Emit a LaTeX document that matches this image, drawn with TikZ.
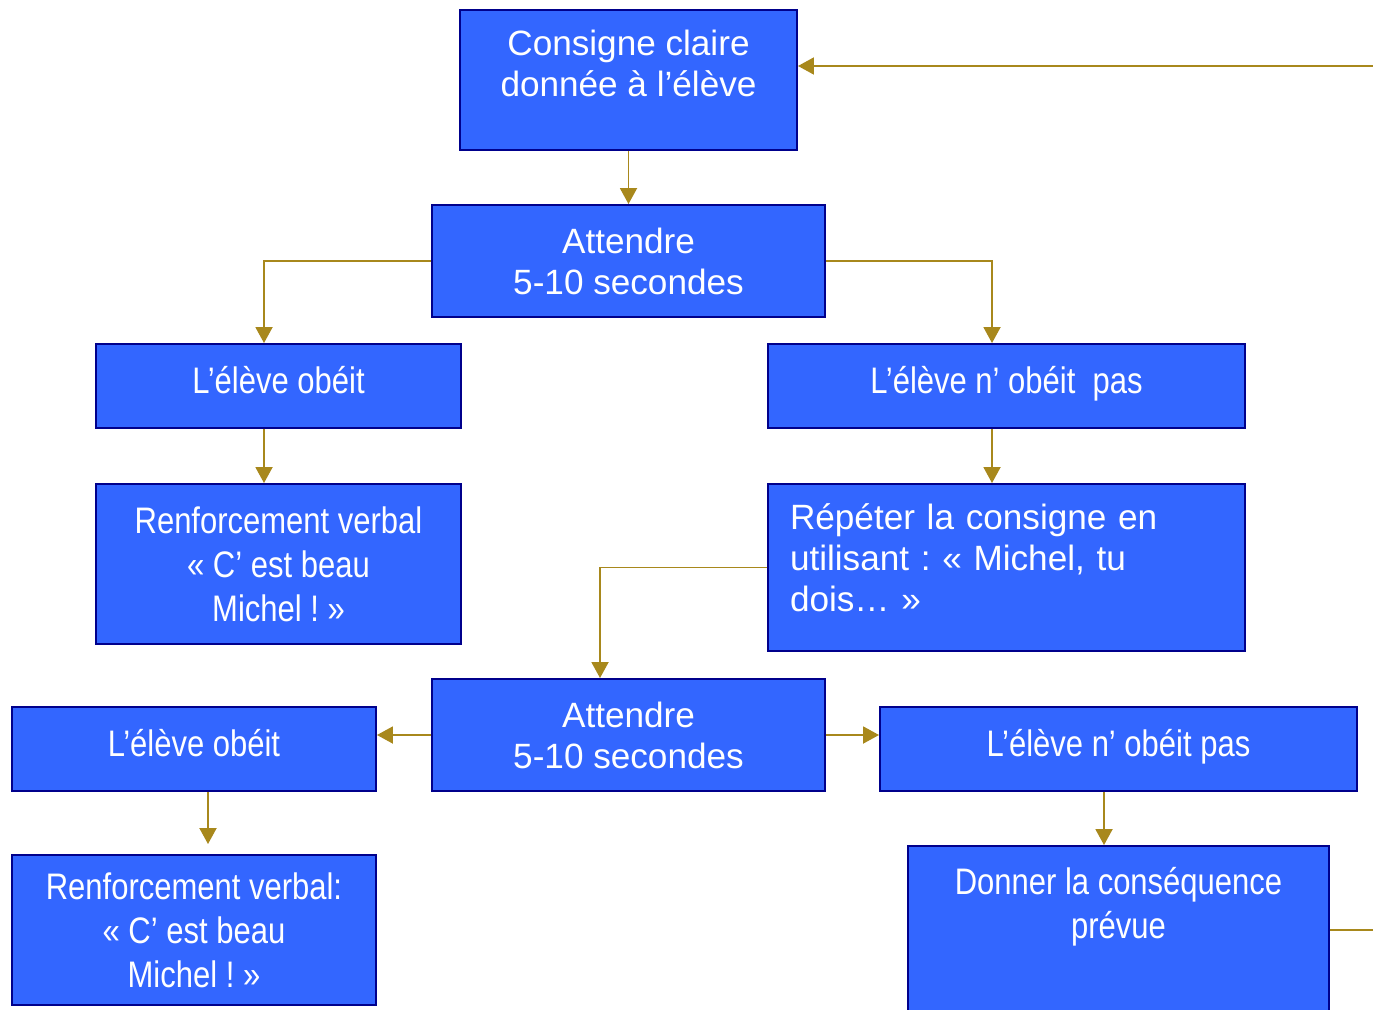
\documentclass[tikz,border=0pt]{standalone}
\usepackage{fontspec}
\setmainfont{Liberation Sans}
\newfontfamily\narrowfont{Liberation Sans}[FakeStretch=0.84]
\frenchspacing
\usetikzlibrary{arrows.meta}
\definecolor{boxfill}{RGB}{51,102,255}
\definecolor{boxline}{RGB}{0,0,140}
\definecolor{arrowgold}{RGB}{168,136,28}
\tikzset{
    block/.style = {
        draw=boxline,
        fill=boxfill,
        shape=rectangle,
        line width=1.1pt,
        text=white,
        align=center,
        inner sep=0pt,
        font=\fontsize{20}{23.3}\selectfont
    },
    narrow/.style = {
        block,
        font=\narrowfont\fontsize{21}{25}\selectfont
    },
    link/.style = {
        draw=arrowgold,
        line width=1.1pt
    },
    >={Triangle[width=0.34cm,length=0.32cm]},
}

\begin{document}
\begin{tikzpicture}
                \useasboundingbox (0,0) rectangle (27.46,-20.18);
                \clip (0,0) rectangle (27.46,-20.18);

                \node[block, minimum width=6.74cm, minimum height=2.80cm, text depth=0.66cm] (consigne) at (12.57,-1.60) {Consigne claire\\donnée à l’élève};
                \node[block, minimum width=7.86cm, minimum height=2.24cm] (attendre1) at (12.57,-5.22) {Attendre\\5-10 secondes};
                \node[narrow, minimum width=7.30cm, minimum height=1.68cm, text depth=0.26cm] (obeit1) at (5.57,-7.72) {L’élève obéit};
                \node[narrow, minimum width=9.54cm, minimum height=1.68cm, text depth=0.26cm] (nobeit1) at (20.13,-7.72) {L’élève n’ obéit\ \ pas};
                \node[narrow, minimum width=7.30cm, minimum height=3.20cm] (renf1) at (5.57,-11.28) {Renforcement verbal\\«~C’ est beau\\Michel ! »};
                \node[block, minimum width=9.54cm, minimum height=3.34cm, text depth=2.02cm, align=left, text width=8.66cm, inner xsep=0.44cm] (repeter) at (20.13,-11.35) {Répéter la consigne en\\utilisant : «~Michel, tu\\dois… »};
                \node[block, minimum width=7.86cm, minimum height=2.24cm] (attendre2) at (12.57,-14.70) {Attendre\\5-10 secondes};
                \node[narrow, minimum width=7.28cm, minimum height=1.68cm, text depth=0.26cm] (obeit2) at (3.88,-14.98) {L’élève obéit};
                \node[narrow, minimum width=9.54cm, minimum height=1.68cm, text depth=0.26cm] (nobeit2) at (22.37,-14.98) {L’élève n’ obéit pas};
                \node[narrow, minimum width=7.28cm, minimum height=3.00cm] (renf2) at (3.88,-18.60) {Renforcement verbal:\\«~C’ est beau\\Michel ! »};
                \node[narrow, minimum width=8.42cm, minimum height=3.36cm, text depth=1.1cm] (donner) at (22.37,-18.60) {Donner la conséquence\\prévue};
                \coordinate (loop) at (28.5,-18.60);

                \path[draw, link, ->] (consigne) -- (attendre1);
                \path[draw, link, ->] (attendre1.west) -| ([xshift=-0.29cm]obeit1.north);
                \path[draw, link, ->] (attendre1.east) -| ([xshift=-0.29cm]nobeit1.north);
                \path[draw, link, ->] ([xshift=-0.29cm]obeit1.south) -- ([xshift=-0.29cm]renf1.north);
                \path[draw, link, ->] ([xshift=-0.29cm]nobeit1.south) -- ([xshift=-0.29cm]repeter.north);
                \path[draw, link, ->] (repeter.west) -| ([xshift=-0.57cm]attendre2.north);
                \path[draw, link, ->] (attendre2.west) -- (attendre2.west -| obeit2.east);
                \path[draw, link, ->] (attendre2.east) -- (attendre2.east -| nobeit2.west);
                \path[draw, link, ->, shorten >=0.2cm] ([xshift=0.28cm]obeit2.south) -- ([xshift=0.28cm]renf2.north);
                \path[draw, link, ->] ([xshift=-0.29cm]nobeit2.south) -- ([xshift=-0.29cm]donner.north);
                \path[draw, link, ->] (donner.east) -- (loop) |- ([yshift=0.28cm]consigne.east);
\end{tikzpicture}
\end{document}
